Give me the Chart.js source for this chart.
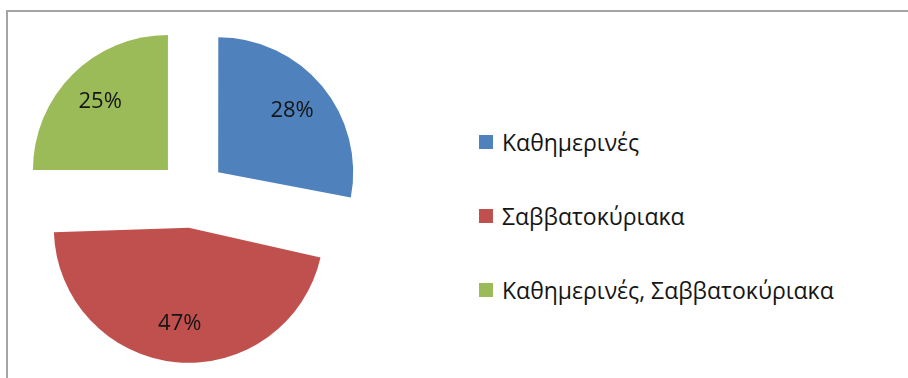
<!DOCTYPE html>
<html>
<head>
<meta charset="utf-8">
<script src="https://cdn.jsdelivr.net/npm/chart.js@4/dist/chart.umd.min.js"></script>
<style>
  html, body {
    margin: 0;
    padding: 0;
    width: 908px;
    height: 378px;
    overflow: hidden;
    background: #ffffff;
    font-family: "Open Sans", "Noto Sans", sans-serif;
  }
  .frame {
    position: absolute;
    left: 6px;
    top: 10px;
    width: 1000px;
    height: 500px;
    border-top: 2px solid #a4a4a4;
    border-left: 2px solid #a4a4a4;
    pointer-events: none;
  }
  #pie {
    position: absolute;
    left: 0;
    top: 0;
  }
  #legend {
    position: absolute;
    left: 479px;
    top: 105px;
    margin: 0;
    padding: 0;
    list-style: none;
  }
  #legend li {
    display: flex;
    align-items: center;
    height: 74px;
    font-size: 23px;
    color: #151515;
    white-space: nowrap;
  }
  #legend .box {
    display: inline-block;
    width: 14px;
    height: 14px;
    margin-right: 9px;
  }
</style>
</head>
<body>
<canvas id="pie" width="384" height="388"></canvas>
<ul id="legend"></ul>
<div class="frame"></div>

<script>
// ποσοστά ανά κατηγορία
const categories = ['Καθημερινές', 'Σαββατοκύριακα', 'Καθημερινές, Σαββατοκύριακα'];
const percents = [28, 47, 25];

const sliceColors = ['#4f81bd', '#c0504d', '#9bbb59'];

const EXPLODE = 136;   // arc offset (chart.js moves the slice by offset / 4)
const RADIUS = 135;

// chart.js grows big exploded slices, put them back to the common radius
const sameRadius = {
  id: 'sameRadius',
  afterDatasetUpdate( chart, args ) {
    for ( const arc of args.meta.data ) {
      const fix = 1 - Math.sin( Math.min( Math.PI, arc.circumference ) );
      arc.outerRadius = RADIUS - ( arc.options.offset / 4 ) * fix;
    }
  }
};

// percentage labels inside each slice
const sliceLabels = {
  id: 'sliceLabels',
  afterDatasetsDraw( chart ) {
    const { ctx } = chart;
    const meta = chart.getDatasetMeta(0);
    const values = chart.data.datasets[0].data;

    ctx.save();
    ctx.font = '22px "Open Sans", "Noto Sans", sans-serif';
    ctx.fillStyle = '#151515';
    ctx.textAlign = 'center';
    ctx.textBaseline = 'middle';

    meta.data.forEach( ( arc, i ) => {
      const mid = ( arc.startAngle + arc.endAngle ) / 2;
      const dist = arc.options.offset / 4 + RADIUS * 0.71;
      const x = arc.x + Math.cos( mid ) * dist;
      const y = arc.y + Math.sin( mid ) * dist;
      ctx.fillText( values[i] + '%', x, y );
    });

    ctx.restore();
  }
};

// legend list built from the chart's own legend items
const htmlLegend = {
  id: 'htmlLegend',
  afterUpdate( chart ) {
    const list = document.querySelector('#legend');
    list.innerHTML = '';

    const items = chart.options.plugins.legend.labels.generateLabels( chart );
    for ( const item of items ) {
      const li = document.createElement('li');
      const box = document.createElement('span');
      box.className = 'box';
      box.style.background = item.fillStyle;
      li.appendChild( box );
      li.appendChild( document.createTextNode( item.text ) );
      list.appendChild( li );
    }
  }
};

const chart = new Chart( document.querySelector('#pie'), {
  type: 'pie',
  data: {
    labels: categories,
    datasets: [{
      data: percents,
      backgroundColor: sliceColors,
      borderWidth: 0,
      offset: EXPLODE,
      hoverOffset: 0
    }]
  },
  options: {
    responsive: false,
    animation: false,
    radius: RADIUS,
    layout: { padding: 0 },
    plugins: {
      legend: { display: false },
      tooltip: { enabled: false }
    }
  },
  plugins: [ sameRadius, sliceLabels, htmlLegend ]
});
</script>
</body>
</html>
